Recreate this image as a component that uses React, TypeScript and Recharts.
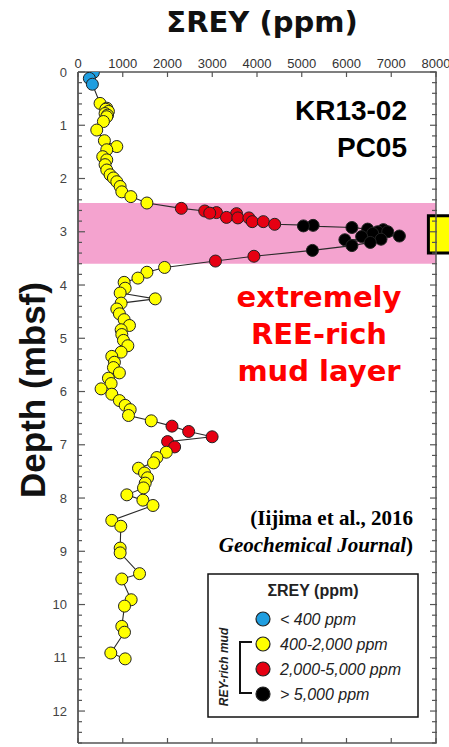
import React from 'react';
import { ScatterChart, Scatter, XAxis, YAxis, ReferenceArea } from 'recharts';

// core KR13-02 PC05, depth (mbsf) and total REY (ppm)
const upperDepth = [0.01, 0.12, 0.23, 0.59, 0.68, 0.7, 0.74, 0.78, 0.81, 0.84, 0.93, 1.09, 1.29, 1.4, 1.46, 1.59, 1.65, 1.74, 1.84, 1.93, 1.99, 2.06, 2.15, 2.25, 2.34, 2.46];
const upperRey = [343, 254, 321, 493, 643, 620, 680, 605, 660, 643, 568, 419, 590, 867, 643, 553, 643, 605, 643, 717, 792, 867, 942, 979, 1181, 1540];

const layerDepth = [2.56, 2.61, 2.64, 2.65, 2.66, 2.73, 2.74, 2.74, 2.81, 2.81, 2.86, 2.88, 2.89, 2.92, 2.95, 2.96, 3.0, 3.0, 3.03, 3.08, 3.09, 3.14, 3.15, 3.2, 3.26, 3.35, 3.46, 3.55];
const layerRey = [2309, 2832, 3094, 2944, 3543, 3318, 3572, 3819, 3894, 4141, 4395, 5254, 5037, 6121, 6472, 6823, 6697, 6921, 6585, 7182, 6338, 6771, 5964, 6532, 6121, 5239, 3931, 3072];

const lowerDepth = [3.67, 3.76, 3.87, 3.95, 4.06, 4.15, 4.26, 4.34, 4.45, 4.54, 4.65, 4.76, 4.84, 4.93, 5.04, 5.14, 5.26, 5.34, 5.45, 5.55, 5.65, 5.75, 5.85, 5.95, 6.05, 6.17, 6.26, 6.34, 6.45, 6.55, 6.65, 6.75, 6.85, 6.94, 7.04, 7.14, 7.24, 7.34, 7.44, 7.53, 7.62, 7.72, 7.81, 7.94, 8.04, 8.14, 8.42, 8.53, 8.94, 9.03, 9.42, 9.52, 9.91, 10.03, 10.41, 10.52, 10.91, 11.02];
const lowerRey = [1935, 1540, 1339, 1031, 1054, 942, 1726, 964, 867, 925, 1031, 1150, 964, 979, 1016, 1114, 964, 755, 814, 792, 925, 680, 740, 516, 755, 925, 1054, 1166, 1128, 1637, 2100, 2473, 2997, 2002, 2159, 1973, 1764, 1688, 1352, 1487, 1554, 1502, 1464, 1092, 1450, 1675, 755, 957, 942, 942, 1375, 979, 1188, 1039, 979, 1039, 733, 1054];

const reyTicks = [0, 1000, 2000, 3000, 4000, 5000, 6000, 7000, 8000];
const depthTicks = [0, 1, 2, 3, 4, 5, 6, 7, 8, 9, 10, 11, 12];

// pink band = extremely REE-rich mud layer
const layerTop = 2.46;
const layerBottom = 3.6;

const classLimits = [400, 2000, 5000];
const classColors = ['#1f9ee0', '#ffff00', '#e60012', '#000000'];
const classLabels = ['< 400 ppm', '400-2,000 ppm', '2,000-5,000 ppm', '> 5,000 ppm'];

const points = [
  ...upperDepth.map((d, i) => ({ depth: d, rey: upperRey[i] })),
  ...layerDepth.map((d, i) => ({ depth: d, rey: layerRey[i] })),
  ...lowerDepth.map((d, i) => ({ depth: d, rey: lowerRey[i] })),
];

const minorDepthTicks = depthTicks
  .flatMap((d) => [0, 0.2, 0.4, 0.6, 0.8].map((s) => Math.round((d + s) * 10) / 10))
  .filter((d) => d <= 12.6);

const colorFor = (v: number) => {
  let k = 0;
  while (k < classLimits.length && v >= classLimits[k]) k++;
  return classColors[k];
};

const AXIS = '#555';
const SANS = '"Liberation Sans", Arial, sans-serif';
const LEFT_GAP = 11;
const TOP_GAP = 4;

const isMajor = (v: number) => Math.abs(v - Math.round(v)) < 1e-6;

const LeftTick = (props: any) => {
  const { x, y, payload } = props;
  const v = payload.value;
  const ax = x + LEFT_GAP;
  return (
    <g>
      <line x1={ax} x2={ax + (isMajor(v) ? 7 : 4)} y1={y} y2={y} stroke={AXIS} strokeWidth={1.2} />
      {isMajor(v) && (
        <text x={x} y={y} dy="0.36em" textAnchor="end" fontSize={13} fill="#444" fontFamily={SANS}>
          {v}
        </text>
      )}
    </g>
  );
};

const RightTick = (props: any) => {
  const { x, y, payload } = props;
  const v = payload.value;
  return <line x1={x - (isMajor(v) ? 6 : 4)} x2={x + 1} y1={y} y2={y} stroke={AXIS} strokeWidth={1.2} />;
};

const TopTick = (props: any) => {
  const { x, y, payload } = props;
  const ay = y + TOP_GAP;
  return (
    <g>
      <line x1={x} x2={x} y1={ay} y2={ay + 5} stroke={AXIS} strokeWidth={1.2} />
      <text x={x} y={y} textAnchor="middle" fontSize={13} fill="#333" fontFamily={SANS}>
        {payload.value}
      </text>
    </g>
  );
};

const BottomTick = (props: any) => {
  const { x, y } = props;
  return <line x1={x} x2={x} y1={y} y2={y - 5} stroke={AXIS} strokeWidth={1.2} />;
};

const Dot = (props: any) => {
  const { cx, cy, payload } = props;
  if (cx == null || cy == null) return null;
  return <circle cx={cx} cy={cy} r={6} fill={colorFor(payload.rey)} stroke="#222" strokeWidth={1} />;
};

export default function App() {
  return (
    <div style={{ position: 'absolute', left: 0, top: 0, width: 449, height: 747, background: '#fff', fontFamily: SANS }}>
      <ScatterChart width={449} height={747} margin={{ top: 52, right: 0, bottom: 0, left: 48 }}>
        <XAxis
          xAxisId="top"
          orientation="top"
          type="number"
          dataKey="rey"
          domain={[0, 8000]}
          ticks={reyTicks}
          interval={0}
          allowDataOverflow
          height={20}
          tickSize={0}
          tickMargin={TOP_GAP}
          tickLine={false}
          tick={<TopTick />}
          axisLine={{ stroke: AXIS, strokeWidth: 1.5 }}
        />
        <XAxis
          xAxisId="bottom"
          orientation="bottom"
          type="number"
          dataKey="rey"
          domain={[0, 8000]}
          ticks={reyTicks}
          interval={0}
          allowDataOverflow
          height={4}
          tickSize={0}
          tickMargin={0}
          tickLine={false}
          tick={<BottomTick />}
          axisLine={{ stroke: AXIS, strokeWidth: 1.5 }}
        />
        <YAxis
          yAxisId="left"
          type="number"
          dataKey="depth"
          domain={[0, 12.6]}
          reversed
          ticks={minorDepthTicks}
          interval={0}
          allowDataOverflow
          width={30}
          tickSize={0}
          tickMargin={LEFT_GAP}
          tickLine={false}
          tick={<LeftTick />}
          axisLine={{ stroke: AXIS, strokeWidth: 1.8 }}
        />
        <YAxis
          yAxisId="right"
          orientation="right"
          type="number"
          dataKey="depth"
          domain={[0, 12.6]}
          reversed
          ticks={minorDepthTicks}
          interval={0}
          allowDataOverflow
          width={13}
          tickSize={0}
          tickMargin={0}
          tickLine={false}
          tick={<RightTick />}
          axisLine={{ stroke: AXIS, strokeWidth: 1.5 }}
        />
        <ReferenceArea
          xAxisId="top"
          yAxisId="left"
          x1={0}
          x2={8000}
          y1={layerTop}
          y2={layerBottom}
          fill="#f4a3cf"
          fillOpacity={1}
          stroke="none"
        />
        <Scatter
          xAxisId="top"
          yAxisId="left"
          data={points}
          line={{ stroke: '#2a2a2a', strokeWidth: 1.1 }}
          lineType="joint"
          shape={Dot}
          isAnimationActive={false}
        />
        <ReferenceArea
          xAxisId="top"
          yAxisId="left"
          x1={7830}
          x2={8400}
          y1={2.7}
          y2={3.4}
          ifOverflow="visible"
          fill="#ffff00"
          fillOpacity={1}
          stroke="#000"
          strokeWidth={3}
        />
      </ScatterChart>

      <svg width={449} height={747} style={{ position: 'absolute', left: 0, top: 0, pointerEvents: 'none' }}>
        <text x={262} y={32} textAnchor="middle" fontSize={29} fontWeight="bold" fontFamily='"DejaVu Sans", sans-serif' fill="#111">
          ΣREY (ppm)
        </text>
        <text
          x={45}
          y={390}
          transform="rotate(-90 45 390)"
          textAnchor="middle"
          fontSize={35}
          fontWeight="bold"
          fontFamily={SANS}
          fill="#111"
        >
          Depth (mbsf)
        </text>

        <text x={407} y={120} textAnchor="end" fontSize={28} fontWeight="bold" fontFamily={SANS} fill="#000">
          KR13-02
        </text>
        <text x={407} y={157} textAnchor="end" fontSize={28} fontWeight="bold" fontFamily={SANS} fill="#000">
          PC05
        </text>

        <g fontSize={29} fontWeight="bold" fontFamily='"DejaVu Sans", sans-serif' fill="#ff0000" textAnchor="middle">
          <text x={319} y={307}>extremely</text>
          <text x={319} y={344}>REE-rich</text>
          <text x={319} y={381}>mud layer</text>
        </g>

        <g fontSize={21} fontWeight="bold" fontFamily='"Liberation Serif", "Times New Roman", serif' fill="#000" textAnchor="end">
          <text x={413} y={525}>(Iijima et al., 2016</text>
          <text x={413} y={552}>
            <tspan fontStyle="italic">Geochemical Journal</tspan>)
          </text>
        </g>

        <rect x={208} y={574} width={210} height={143} fill="#fff" stroke="#111" strokeWidth={1.5} />
        <text x={313} y={596} textAnchor="middle" fontSize={16} fontWeight="bold" fontFamily={SANS} fill="#222">
          ΣREY (ppm)
        </text>
        {classLabels.map((label, i) => {
          const cy = 619 + i * 25;
          return (
            <g key={label}>
              <circle cx={263} cy={cy} r={7} fill={classColors[i]} stroke="#222" strokeWidth={1.2} />
              <text x={280} y={cy + 6} fontSize={16} fontStyle="italic" fontFamily={SANS} fill="#222">
                {label}
              </text>
            </g>
          );
        })}
        <path d="M252 642 H240 V693 H252" fill="none" stroke="#111" strokeWidth={2} />
        <text
          x={228}
          y={667}
          transform="rotate(-90 228 667)"
          textAnchor="middle"
          fontSize={12}
          fontWeight="bold"
          fontStyle="italic"
          fontFamily={SANS}
          fill="#222"
        >
          REY-rich mud
        </text>
      </svg>
    </div>
  );
}
